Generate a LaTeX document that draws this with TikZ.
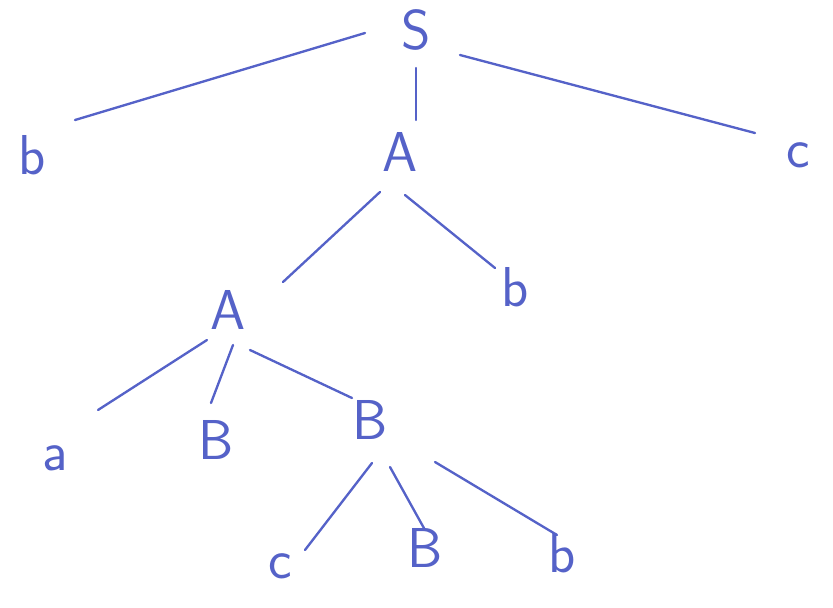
\documentclass[tikz,border=0pt]{standalone}
\usepackage{xcolor}
\usepackage{tikz}
\usetikzlibrary{calc}
\definecolor{pen}{HTML}{5562C8}

\begin{document}
\begin{tikzpicture}[x=0.03cm,y=-0.03cm,
        sym/.style={text=pen,font=\sffamily\fontsize{48}{52}\selectfont,inner sep=0pt},
        edge/.style={pen,line width=2pt,line cap=round}]
        \useasboundingbox (0,0) rectangle (833,607);
        % symbols of the tree
        \node[sym] (S) at (416,30) {S};
        \node[sym] (b1) at (32,155) {b};
        \node[sym] (A1) at (400,152) {A};
        \node[sym] (c1) at (798,155) {c};
        \node[sym] (A2) at (228,310) {A};
        \node[sym] (b2) at (515,287) {b};
        \node[sym] (a) at (55,458) {a};
        \node[sym] (B1) at (216,440) {B};
        \node[sym] (B2) at (370,420) {B};
        \node[sym] (c2) at (280,566) {c};
        \node[sym] (B3) at (425,548) {B};
        \node[sym] (b3) at (562,553) {b};
        % branches
        \draw[edge] ($(S)+(-51,3)$)--($(b1)+(43,-35)$);
        \draw[edge] ($(S)+(0,38)$)--($(A1)+(16,-32)$);
        \draw[edge] ($(S)+(44,25)$)--($(c1)+(-43,-22)$);
        \draw[edge] ($(A1)+(-20,40)$)--($(A2)+(55,-28)$);
        \draw[edge] ($(A1)+(5,43)$)--($(b2)+(-20,-19)$);
        \draw[edge] ($(A2)+(-21,30)$)--($(a)+(43,-48)$);
        \draw[edge] ($(A2)+(5,35)$)--($(B1)+(-5,-37)$);
        \draw[edge] ($(A2)+(22,40)$)--($(B2)+(-18,-22)$);
        \draw[edge] ($(B2)+(2,43)$)--($(c2)+(25,-16)$);
        \draw[edge] ($(B2)+(20,47)$)--($(B3)+(0,-18)$);
        \draw[edge] ($(B2)+(65,42)$)--($(b3)+(-5,-18)$);
    \end{tikzpicture}
\end{document}
